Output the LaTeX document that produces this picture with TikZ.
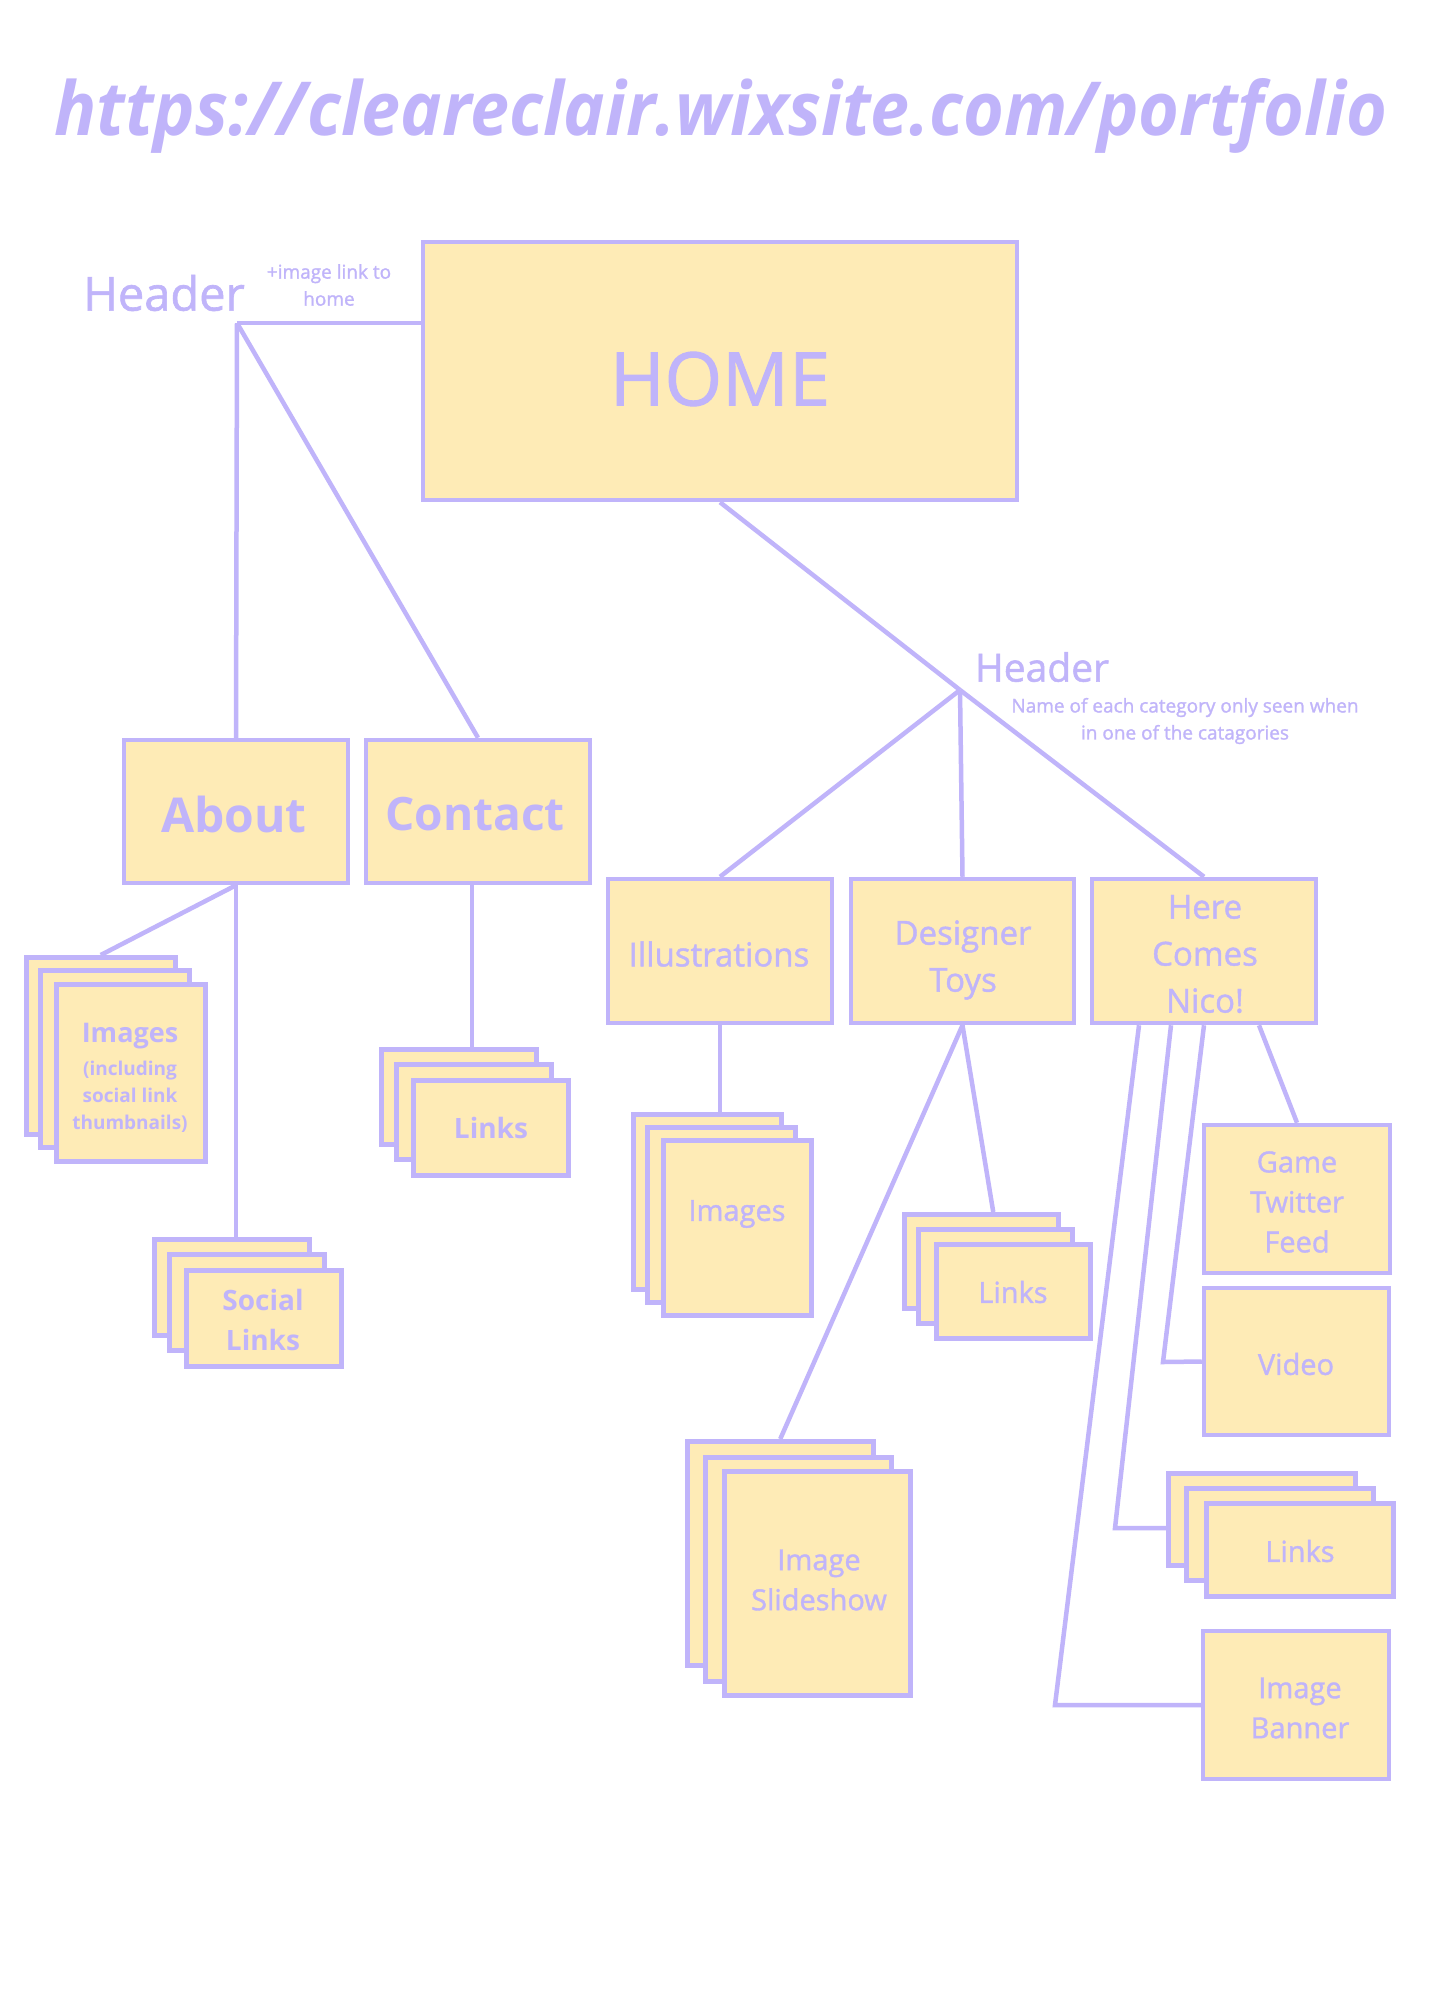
\documentclass[tikz,border=0pt]{standalone}
\usepackage{fontspec}
\setmainfont{Open Sans}
\newfontfamily\medfont{Open Sans}[FakeBold=1.3]
\usetikzlibrary{calc}
\definecolor{lav}{RGB}{192,180,250}
\definecolor{cream}{RGB}{254,235,182}
\begin{document}
\begin{tikzpicture}[x=1pt,y=-1pt,
 conn/.style={draw=lav, line width=4.5pt, line join=miter},
 box/.style={draw=lav, fill=cream, line width=4.5pt, inner sep=0pt},
 nw/.style={anchor=north west},
 lbl/.style={text=lav, inner sep=0pt, align=center},
 fbig/.style={font=\medfont\fontsize{33}{47}\selectfont},
 fmid/.style={font=\medfont\fontsize{29}{40}\selectfont},
 fbold/.style={font=\bfseries\fontsize{28}{40}\selectfont},
 fnote/.style={font=\medfont\fontsize{19}{27}\selectfont},
]
\useasboundingbox[fill=white] (0,0) rectangle (1440,2000);

% title
\node[lbl, anchor=base west] (title) at (54,135) {\resizebox{1333pt}{57pt}{\bfseries\itshape\fontsize{74}{80}\selectfont https://cleareclair.wixsite.com/portfolio}};

% HOME
\node[box, minimum width=594pt, minimum height=258pt] (home) at (720,371) {};
\node[lbl, font=\medfont\fontsize{74}{80}\selectfont] (homeT) at (720,379) {HOME};

% left header
\node[lbl, font=\medfont\fontsize{47}{56}\selectfont] (hdrLtxt) at (164,293) {Header};
\node[lbl, fnote] (imglink) at (329,285) {+image link to\\home};
\coordinate (hdrL) at (237,323);

\node[box, minimum width=224pt, minimum height=143pt] (about) at (236,811.5) {};
\node[lbl, font=\bfseries\fontsize{48}{56}\selectfont] (aboutT) at (234,814) {About};
\node[box, minimum width=224pt, minimum height=143pt] (contact) at (478,811.5) {};
\node[lbl, font=\bfseries\fontsize{46}{56}\selectfont] (contactT) at (475,814) {Contact};

% About images stack
\node[box, nw, minimum width=149pt, minimum height=177pt] (aimA) at (24,955) {};
\node[box, nw, minimum width=149pt, minimum height=177pt] (aimB) at (38,968) {};
\node[box, nw, minimum width=149pt, minimum height=177pt] (aimC) at (54,982) {};
\node[lbl, font=\bfseries\fontsize{19}{27}\selectfont] (aimT) at (130,1078) {{\fontsize{27}{27}\selectfont Images}\\[6pt](including\\social link\\thumbnails)};

% Social links stack
\node[box, nw, minimum width=155pt, minimum height=96pt] (socA) at (152,1237) {};
\node[box, nw, minimum width=155pt, minimum height=96pt] (socB) at (167,1252) {};
\node[box, nw, minimum width=155pt, minimum height=96pt] (socC) at (184,1268) {};
\node[lbl, fbold] (socT) at (263,1320) {Social\\Links};

% Contact links stack
\node[box, nw, minimum width=155pt, minimum height=95pt] (clA) at (379,1047) {};
\node[box, nw, minimum width=155pt, minimum height=95pt] (clB) at (394,1062) {};
\node[box, nw, minimum width=155pt, minimum height=95pt] (clC) at (411,1078) {};
\node[lbl, fbold] (clT) at (491,1128) {Links};

% right header
\node[lbl, font=\medfont\fontsize{39}{48}\selectfont] (hdrRtxt) at (1042,667) {Header};
\node[lbl, fnote] (note) at (1185,721) {Name of each category only seen when\\in one of the catagories};
\coordinate (hdrR) at (960,690);

\node[box, minimum width=224pt, minimum height=144pt] (illus) at (720,951) {};
\node[lbl, fbig] (illusT) at (719,954) {Illustrations};
\node[box, minimum width=223pt, minimum height=144pt] (designer) at (962.5,951) {};
\node[lbl, fbig] (designerT) at (963,960) {Designer\\Toys};
\node[box, minimum width=224pt, minimum height=144pt] (nico) at (1204,951) {};
\node[lbl, fbig] (nicoT) at (1205,954) {Here\\Comes\\Nico!};

% Illustrations images stack
\node[box, nw, minimum width=148pt, minimum height=175pt] (iiA) at (631,1112) {};
\node[box, nw, minimum width=148pt, minimum height=175pt] (iiB) at (645,1125) {};
\node[box, nw, minimum width=148pt, minimum height=175pt] (iiC) at (661,1138) {};
\node[lbl, fmid] (iiT) at (737,1214) {Images};

% Designer links stack
\node[box, nw, minimum width=154pt, minimum height=94pt] (dlA) at (902,1212) {};
\node[box, nw, minimum width=154pt, minimum height=94pt] (dlB) at (916,1227) {};
\node[box, nw, minimum width=154pt, minimum height=94pt] (dlC) at (934,1242) {};
\node[lbl, fmid] (dlT) at (1013,1292) {Links};

% Slideshow stack
\node[box, nw, minimum width=186pt, minimum height=224pt] (ssA) at (685,1439) {};
\node[box, nw, minimum width=186pt, minimum height=224pt] (ssB) at (703,1455) {};
\node[box, nw, minimum width=186pt, minimum height=224pt] (ssC) at (722,1469) {};
\node[lbl, fmid] (ssT) at (819,1580) {Image\\Slideshow};

% Nico children
\node[box, minimum width=186pt, minimum height=148pt] (gtf) at (1297,1199) {};
\node[lbl, fmid] (gtfT) at (1297,1202) {Game\\Twitter\\Feed};
\node[box, minimum width=185pt, minimum height=147pt] (video) at (1296.5,1361.5) {};
\node[lbl, fmid] (videoT) at (1296,1364) {Video};
\node[box, nw, minimum width=187pt, minimum height=92pt] (nlA) at (1166,1471) {};
\node[box, nw, minimum width=187pt, minimum height=92pt] (nlB) at (1184,1486) {};
\node[box, nw, minimum width=187pt, minimum height=93pt] (nlC) at (1204,1501) {};
\node[lbl, fmid] (nlT) at (1300,1551) {Links};
\node[box, minimum width=186pt, minimum height=148pt] (banner) at (1296,1705) {};
\node[lbl, fmid] (bannerT) at (1300,1708) {Image\\Banner};

% connectors
\draw[conn] (hdrL) -- (hdrL -| home.west);
\draw[conn] (hdrL) -- (about.north);
\draw[conn] (hdrL) -- (contact.north);
\draw[conn] (about.south) -- (aimA.north);
\draw[conn] (about.south) -- (about.south |- socA.north);
\draw[conn] ([xshift=-6pt]contact.south) -- ([xshift=-6pt]contact.south |- clA.north);

\draw[conn] (home.south) -- (hdrR);
\draw[conn] (hdrR) -- (illus.north);
\draw[conn] (hdrR) -- (designer.north);
\draw[conn] (hdrR) -- (nico.north);
\draw[conn] (illus.south) -- (illus.south |- iiA.north);
\draw[conn] (designer.south) -- (ssA.north);
\draw[conn] (designer.south) -- ([xshift=12pt]dlA.north);

\coordinate (cV) at (1163,1362);
\coordinate (cL) at (1115,1528);
\coordinate (cB) at (1055,1705);
\draw[conn] ([xshift=55pt]nico.south) -- (gtf.north);
\draw[conn] (nico.south) -- (cV) -- (video.west);
\draw[conn] ([xshift=-33pt]nico.south) -- (cL) -- (cL -| nlA.west);
\draw[conn] ([xshift=-65pt]nico.south) -- (cB) -- (banner.west);
\end{tikzpicture}
\end{document}
